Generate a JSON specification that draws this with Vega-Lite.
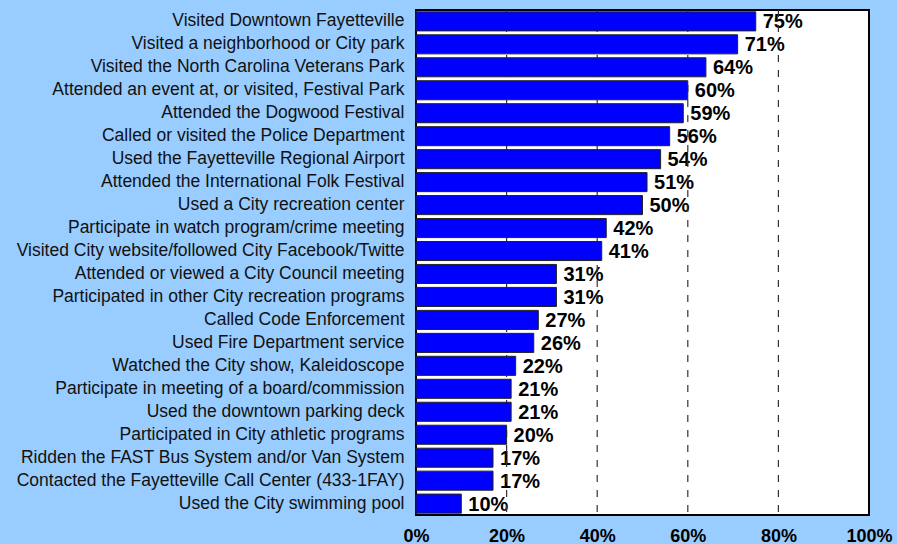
{
  "$schema": "https://vega.github.io/schema/vega-lite/v6.json",
  "autosize": "none",
  "width": 453,
  "height": 505,
  "padding": {"left": 416, "top": 10, "right": 28, "bottom": 29},
  "background": "#99CCFF",
  "config": {
    "view": {"fill": "white", "stroke": "black", "strokeWidth": 2},
    "font": "Liberation Sans"
  },
  "datasets": {
    "items": [
      {"item": "Visited Downtown Fayetteville", "pct": 0.75},
      {"item": "Visited a neighborhood or City park", "pct": 0.71},
      {"item": "Visited the North Carolina Veterans Park", "pct": 0.64},
      {"item": "Attended an event at, or visited, Festival Park", "pct": 0.60},
      {"item": "Attended the Dogwood Festival", "pct": 0.59},
      {"item": "Called or visited the Police Department", "pct": 0.56},
      {"item": "Used the Fayetteville Regional Airport", "pct": 0.54},
      {"item": "Attended the International Folk Festival", "pct": 0.51},
      {"item": "Used a City recreation center", "pct": 0.50},
      {"item": "Participate in watch program/crime meeting", "pct": 0.42},
      {"item": "Visited City website/followed City Facebook/Twitte ", "pct": 0.41},
      {"item": "Attended or viewed a City Council meeting", "pct": 0.31},
      {"item": "Participated in other City recreation programs", "pct": 0.31},
      {"item": "Called Code Enforcement", "pct": 0.27},
      {"item": "Used Fire Department service", "pct": 0.26},
      {"item": "Watched the City show, Kaleidoscope", "pct": 0.22},
      {"item": "Participate in meeting of a board/commission", "pct": 0.21},
      {"item": "Used the downtown parking deck", "pct": 0.21},
      {"item": "Participated in City athletic programs", "pct": 0.20},
      {"item": "Ridden the FAST Bus System and/or Van System", "pct": 0.17},
      {"item": "Contacted the Fayetteville Call Center (433-1FAY)", "pct": 0.17},
      {"item": "Used the City swimming pool", "pct": 0.10}
    ],
    "grid": [{"g": 0.2}, {"g": 0.4}, {"g": 0.6}, {"g": 0.8}]
  },
  "layer": [
    {
      "data": {"name": "items"},
      "mark": {"type": "text", "align": "left", "baseline": "middle", "dx": 7, "dy": 1, "fontSize": 20, "fontWeight": "bold", "color": "black"},
      "encoding": {
        "y": {"field": "item", "type": "nominal", "sort": null},
        "x": {"field": "pct", "type": "quantitative"},
        "text": {"field": "pct", "type": "quantitative", "format": ".0%"}
      }
    },
    {
      "data": {"name": "grid"},
      "mark": {"type": "rule", "color": "#333333", "strokeWidth": 1.2, "strokeDash": [7, 8]},
      "encoding": {
        "x": {"field": "g", "type": "quantitative"}
      }
    },
    {
      "data": {"name": "items"},
      "mark": {"type": "bar", "color": "#0000FF", "stroke": "#222222", "strokeWidth": 1, "opacity": 1},
      "encoding": {
        "y": {
          "field": "item", "type": "nominal", "sort": null,
          "scale": {"paddingInner": 0.17, "paddingOuter": 0.08},
          "axis": {"title": null, "ticks": false, "domain": false, "labelFontSize": 17.5, "labelColor": "#111111", "labelPadding": 12, "labelLimit": 420}
        },
        "x": {
          "field": "pct", "type": "quantitative",
          "scale": {"domain": [0, 1], "nice": false},
          "axis": {"title": null, "format": ".0%", "values": [0, 0.2, 0.4, 0.6, 0.8, 1], "grid": false, "ticks": false, "domain": false, "labelFontSize": 18, "labelFontWeight": "bold", "labelColor": "black", "labelPadding": 12, "labelFlush": false}
        }
      }
    }
  ]
}
